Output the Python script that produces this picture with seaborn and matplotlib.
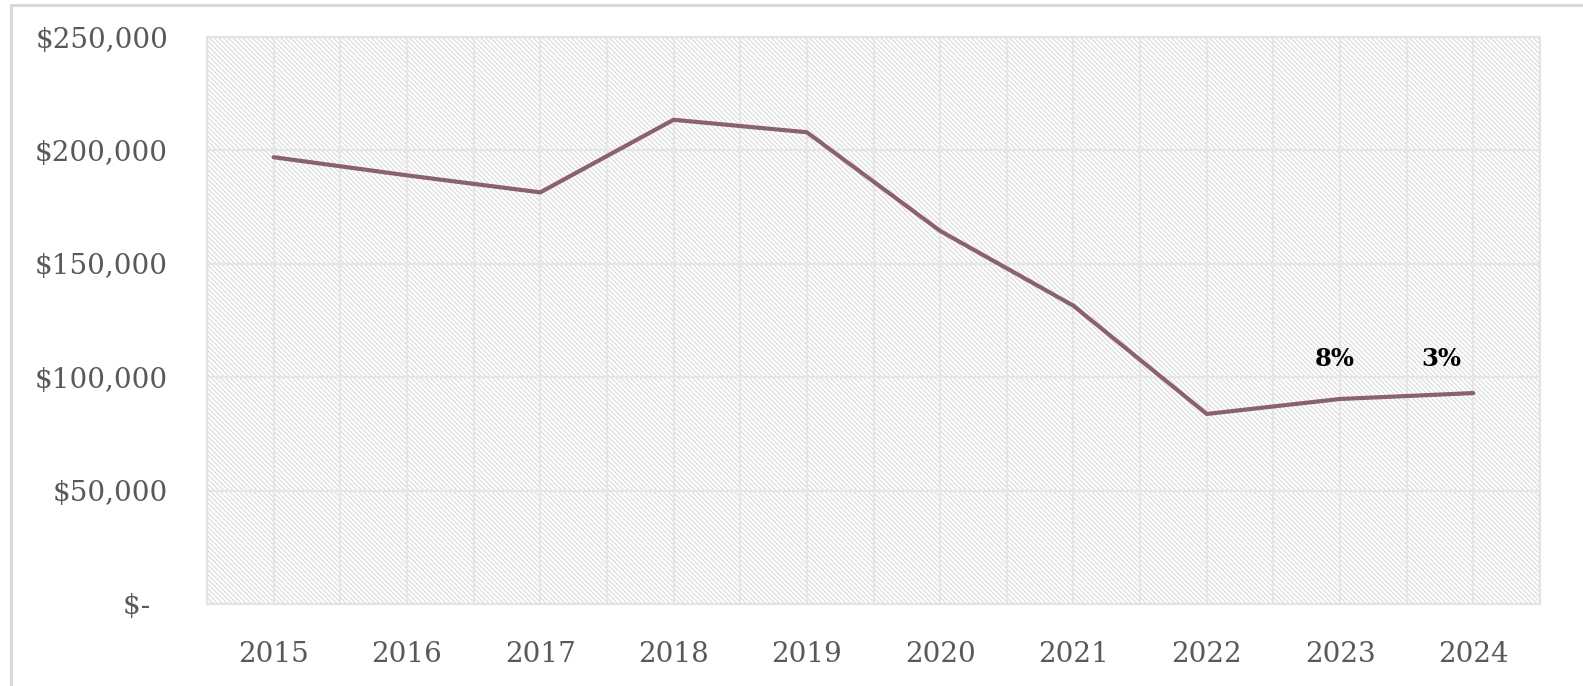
import numpy as np
import pandas as pd
import matplotlib
matplotlib.use("Agg")
import matplotlib.pyplot as plt
from matplotlib.patches import Rectangle
from matplotlib.ticker import FuncFormatter, MultipleLocator
import seaborn as sns

#### data
years = [2015, 2016, 2017, 2018, 2019, 2020, 2021, 2022, 2023, 2024]
values = [197000, 189000, 181500, 213500, 208000, 164500, 131500, 83800, 90400, 93000]
growth_years = [2023, 2024]
growth_labels = ["8%", "3%"]
growth_label_y = [108000, 108000]
y_ticks = [0, 50000, 100000, 150000, 200000, 250000]

df = pd.DataFrame({"year": years, "value": values})

sns.set_theme(style="white")
plt.rcParams["font.family"] = ["DejaVu Serif", "DejaVu Sans"]
plt.rcParams["hatch.color"] = "#dedede"
plt.rcParams["hatch.linewidth"] = 0.9

fig = plt.figure(figsize=(15.83, 6.86), dpi=100)
ax = fig.add_axes([207/1583, 82/686, 1333/1583, 567/686])

# chart area border
fig.patches.append(Rectangle((11/1583, -0.05), 1.0, (681/686) + 0.05, transform=fig.transFigure,
                             fill=False, edgecolor="#d9d9d9", linewidth=2.2, zorder=0))

# hatched plot area
ax.set_facecolor("white")
ax.add_patch(Rectangle((0, 0), 1, 1, transform=ax.transAxes, facecolor="white",
                       hatch="\\" * 7, edgecolor="#dedede", linewidth=0, zorder=0))

sns.lineplot(data=df, x="year", y="value", ax=ax, color="#8B6070", linewidth=3.0,
             zorder=3, solid_joinstyle="miter", solid_capstyle="round")

for yr, lab, ly, dx in zip(growth_years, growth_labels, growth_label_y, [-0.04, -0.24]):
    ax.text(yr + dx, ly, lab, ha="center", va="center", fontsize=17.5,
            fontweight="bold", color="black", zorder=4)

ax.set_xlim(years[0] - 0.5, years[-1] + 0.5)
ax.set_ylim(0, 250000)
ax.set_xticks(years)
ax.set_xticklabels([str(y) for y in years])
ax.xaxis.set_minor_locator(MultipleLocator(0.5))
ax.set_yticks(y_ticks)


def money(v, pos):
    if v == 0:
        return "$-\u2007"
    return "${:,.0f}".format(v)


ax.yaxis.set_major_formatter(FuncFormatter(money))
ax.grid(True, which="major", axis="y", color="#e6e6e6", linewidth=1.6, zorder=1)
ax.grid(True, which="both", axis="x", color="#e6e6e6", linewidth=1.6, zorder=1)
ax.set_axisbelow(True)

ax.tick_params(axis="both", which="both", length=0, labelsize=20, labelcolor="#595959")
ax.tick_params(axis="x", pad=27)
ax.tick_params(axis="y", pad=28)
ax.set_xlabel("")
ax.set_ylabel("")
for s in ax.spines.values():
    s.set_color("#e3e3e3")
    s.set_linewidth(1.5)

fig.savefig("out.png", dpi=100)
